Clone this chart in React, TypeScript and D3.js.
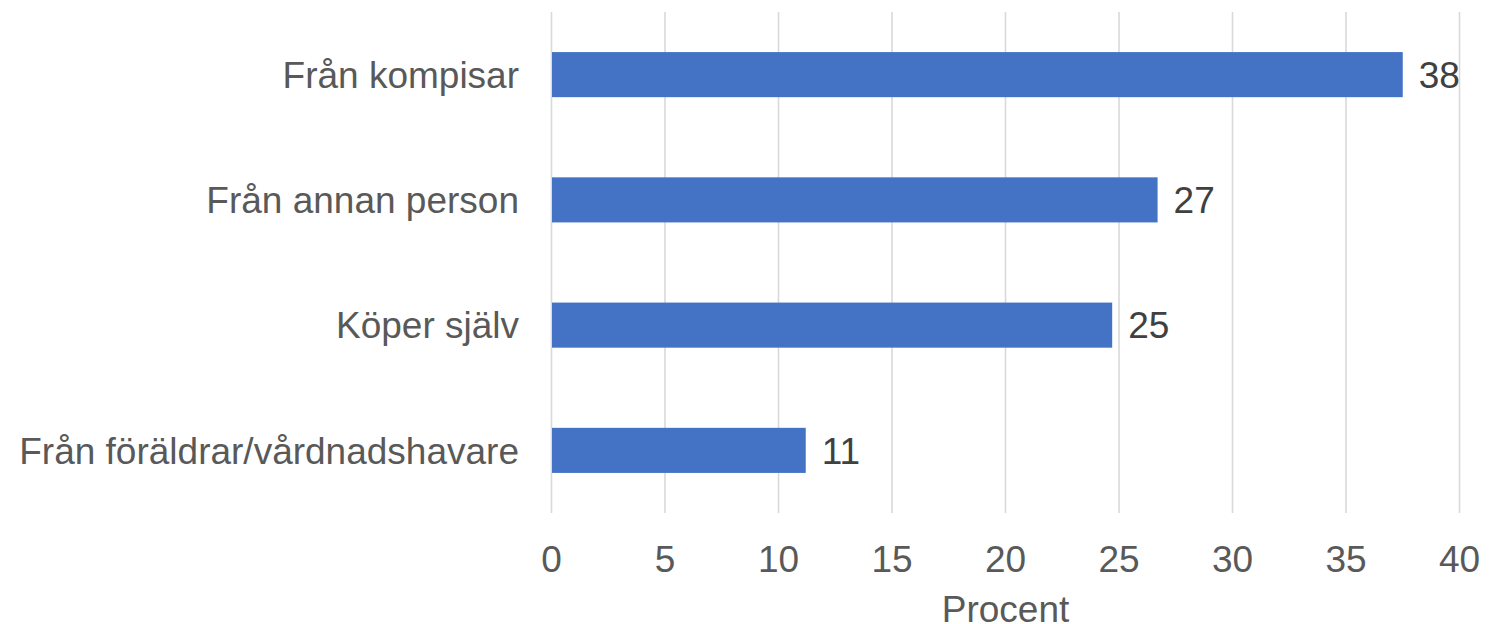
import React from "react";
import * as d3 from "d3";

const categories = [
  "Från kompisar",
  "Från annan person",
  "Köper själv",
  "Från föräldrar/vårdnadshavare",
];
const values = [37.5, 26.7, 24.7, 11.2];
const valueLabels = ["38", "27", "25", "11"];
const xTicks = [0, 5, 10, 15, 20, 25, 30, 35, 40];
const axisTitle = "Procent";

const W = 1489;
const H = 624;
const FONT = "'Liberation Sans', Arial, sans-serif";
const FS = 37;

export default function App() {
  const x = d3.scaleLinear().domain([0, 40]).range([551.5, 1459.5]);
  const y = d3
    .scaleBand<string>()
    .domain(categories)
    .range([12, 513])
    .paddingInner(0.64)
    .paddingOuter(0.32);

  return (
    <svg
      width={W}
      height={H}
      style={{ position: "absolute", left: 0, top: 0, background: "#fff" }}
      fontFamily={FONT}
    >
      {xTicks.map((t) => (
        <line
          key={"g" + t}
          x1={x(t)}
          x2={x(t)}
          y1={12}
          y2={513}
          stroke="#d9d9d9"
          strokeWidth={1.6}
        />
      ))}
      {categories.map((c, i) => {
        const y0 = y(c)!;
        const bw = y.bandwidth();
        return (
          <g key={c}>
            <rect
              x={x(0) + 0.5}
              y={y0}
              width={x(values[i]) - x(0) - 0.5}
              height={bw}
              fill="#4472c4"
            />
            <text
              x={x(values[i]) + 16}
              y={y0 + bw / 2}
              dy="0.36em"
              fontSize={FS}
              fill="#404040"
            >
              {valueLabels[i]}
            </text>
            <text
              x={519}
              y={y0 + bw / 2}
              dy="0.36em"
              fontSize={FS}
              fill="#595959"
              textAnchor="end"
            >
              {c}
            </text>
          </g>
        );
      })}
      {xTicks.map((t) => (
        <text
          key={"t" + t}
          x={x(t)}
          y={572}
          fontSize={FS}
          fill="#595959"
          textAnchor="middle"
        >
          {t}
        </text>
      ))}
      <text
        x={(x(0) + x(40)) / 2}
        y={622}
        fontSize={FS}
        fill="#595959"
        textAnchor="middle"
      >
        {axisTitle}
      </text>
    </svg>
  );
}
